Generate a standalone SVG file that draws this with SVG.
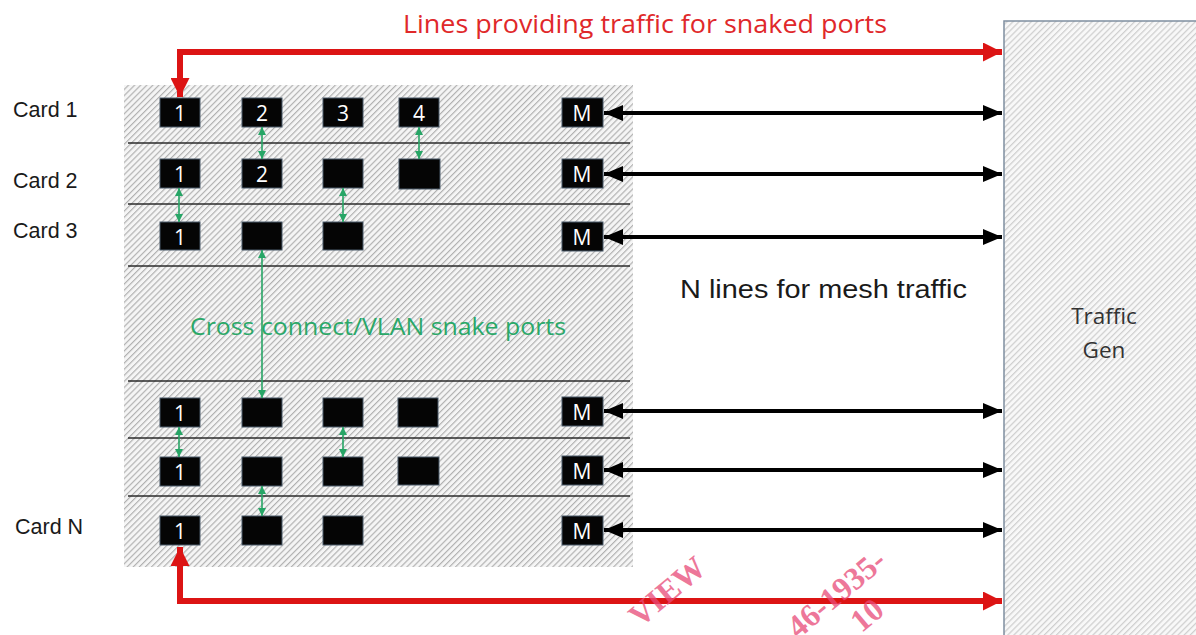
<svg xmlns="http://www.w3.org/2000/svg" width="1196" height="635" viewBox="0 0 1196 635">
<defs>
<pattern id="hatch" width="4.3" height="4.3" patternUnits="userSpaceOnUse" patternTransform="rotate(45)">
<rect width="4.3" height="4.3" fill="#f5f5f5"/>
<line x1="0.6" y1="0" x2="0.6" y2="4.3" stroke="#adadad" stroke-width="1.1"/>
</pattern>
<pattern id="hatch2" width="4.3" height="4.3" patternUnits="userSpaceOnUse" patternTransform="rotate(45)">
<rect width="4.3" height="4.3" fill="#f8f8f8"/>
<line x1="0.6" y1="0" x2="0.6" y2="4.3" stroke="#cfcfcf" stroke-width="1.3"/>
</pattern>
<marker id="blk" viewBox="0 0 19 16" refX="19" refY="8" markerWidth="19" markerHeight="16" markerUnits="userSpaceOnUse" orient="auto-start-reverse">
<path d="M0,0 L19,8 L0,16 Z" fill="#000"/>
</marker>
<marker id="red" viewBox="0 0 19 19" refX="19" refY="9.5" markerWidth="19" markerHeight="19" markerUnits="userSpaceOnUse" orient="auto-start-reverse">
<path d="M0,0 L19,9.5 L0,19 Z" fill="#dc1414"/>
</marker>
<marker id="grn" viewBox="0 0 8 8" refX="8" refY="4" markerWidth="8" markerHeight="8" markerUnits="userSpaceOnUse" orient="auto-start-reverse">
<path d="M0,0 L8,4 L0,8 Z" fill="#27a566"/>
</marker>
</defs>
<style>
.port{fill:#050505;stroke:#4a5a6a;stroke-width:1}
.pl{font-family:"Open Sans",sans-serif;font-size:21px;fill:#fff;text-anchor:middle}
.card{font-family:"Liberation Sans",Arial,sans-serif;font-size:21.5px;fill:#1a1a1a}
.sep{stroke:#2a2a2a;stroke-width:1.5}
.ba{stroke:#000;stroke-width:4;fill:none;marker-start:url(#blk);marker-end:url(#blk)}
.ra{stroke:#dc1414;stroke-width:6;fill:none;marker-start:url(#red);marker-end:url(#red)}
.ga{stroke:#27a566;stroke-width:1.6;fill:none;marker-start:url(#grn);marker-end:url(#grn)}
.wm{font-family:"Liberation Serif",serif;font-weight:bold;font-size:32px;fill:#e84a78;opacity:0.75}
</style>
<rect width="1196" height="635" fill="#fff"/>

<g id="card-area">
<rect x="124" y="85" width="509" height="482" fill="url(#hatch)"/>
<line class="sep" x1="128" y1="143" x2="630" y2="143"/>
<line class="sep" x1="128" y1="204" x2="630" y2="204"/>
<line class="sep" x1="128" y1="266" x2="630" y2="266"/>
<line class="sep" x1="128" y1="381" x2="630" y2="381"/>
<line class="sep" x1="128" y1="438" x2="630" y2="438"/>
<line class="sep" x1="128" y1="496" x2="630" y2="496"/>
</g>

<g id="traffic-gen">
<rect x="1004" y="21" width="200" height="630" fill="url(#hatch2)" stroke="#7f8fa0" stroke-width="1.5"/>
<text x="1104" y="324" font-family="Open Sans,sans-serif" font-size="22.5" fill="#333" text-anchor="middle">Traffic</text>
<text x="1104" y="358" font-family="Open Sans,sans-serif" font-size="22.5" fill="#333" text-anchor="middle">Gen</text>
</g>

<g id="card1">
<text class="card" x="13" y="117">Card 1</text>
<rect class="port" x="160" y="98" width="40" height="29"/><text class="pl" x="180" y="121">1</text>
<rect class="port" x="242" y="98" width="40" height="29"/><text class="pl" x="262" y="121">2</text>
<rect class="port" x="323" y="98" width="40" height="29"/><text class="pl" x="343" y="121">3</text>
<rect class="port" x="399" y="98" width="40" height="29"/><text class="pl" x="419" y="121">4</text>
<rect class="port" x="562" y="98" width="41" height="29"/><text class="pl" x="582" y="121">M</text>
</g>
<g id="card2">
<text class="card" x="13" y="188">Card 2</text>
<rect class="port" x="160" y="159" width="40" height="29"/><text class="pl" x="180" y="182">1</text>
<rect class="port" x="242" y="159" width="40" height="29"/><text class="pl" x="262" y="182">2</text>
<rect class="port" x="323" y="159" width="40" height="29"/>
<rect class="port" x="399" y="159" width="41" height="30"/>
<rect class="port" x="562" y="159" width="41" height="29"/><text class="pl" x="582" y="182">M</text>
</g>
<g id="card3">
<text class="card" x="13" y="238">Card 3</text>
<rect class="port" x="160" y="222" width="40" height="28"/><text class="pl" x="180" y="245">1</text>
<rect class="port" x="242" y="222" width="40" height="28"/>
<rect class="port" x="323" y="222" width="40" height="28"/>
<rect class="port" x="562" y="222" width="41" height="29"/><text class="pl" x="582" y="245">M</text>
</g>
<g id="cardA">
<rect class="port" x="160" y="398" width="40" height="29"/><text class="pl" x="180" y="421">1</text>
<rect class="port" x="242" y="398" width="40" height="29"/>
<rect class="port" x="323" y="398" width="40" height="29"/>
<rect class="port" x="398" y="398" width="40" height="29"/>
<rect class="port" x="562" y="397" width="41" height="29"/><text class="pl" x="582" y="420">M</text>
</g>
<g id="cardB">
<rect class="port" x="160" y="457" width="40" height="29"/><text class="pl" x="180" y="480">1</text>
<rect class="port" x="242" y="457" width="40" height="29"/>
<rect class="port" x="323" y="457" width="40" height="29"/>
<rect class="port" x="398" y="457" width="41" height="28"/>
<rect class="port" x="562" y="456" width="41" height="29"/><text class="pl" x="582" y="479">M</text>
</g>
<g id="cardN">
<text class="card" x="15" y="534">Card N</text>
<rect class="port" x="160" y="516" width="40" height="29"/><text class="pl" x="180" y="539">1</text>
<rect class="port" x="242" y="516" width="40" height="29"/>
<rect class="port" x="323" y="516" width="40" height="29"/>
<rect class="port" x="562" y="516" width="41" height="29"/><text class="pl" x="582" y="539">M</text>
</g>

<g id="connectors">
<path class="ra" d="M180,97 L180,52 L1002,52"/>
<path class="ra" d="M180,547 L180,601 L1002,601"/>
<line class="ba" x1="604" y1="113" x2="1002" y2="113"/>
<line class="ba" x1="604" y1="174" x2="1002" y2="174"/>
<line class="ba" x1="604" y1="237" x2="1002" y2="237"/>
<line class="ba" x1="604" y1="411" x2="1002" y2="411"/>
<line class="ba" x1="604" y1="470" x2="1002" y2="470"/>
<line class="ba" x1="604" y1="530" x2="1002" y2="530"/>
<line class="ga" x1="262" y1="127" x2="262" y2="159"/>
<line class="ga" x1="419" y1="127" x2="419" y2="159"/>
<line class="ga" x1="179" y1="188" x2="179" y2="222"/>
<line class="ga" x1="343" y1="188" x2="343" y2="222"/>
<line class="ga" x1="262" y1="250" x2="262" y2="398"/>
<line class="ga" x1="179" y1="427" x2="179" y2="457"/>
<line class="ga" x1="343" y1="427" x2="343" y2="457"/>
<line class="ga" x1="262" y1="486" x2="262" y2="516"/>
</g>

<g id="labels">
<text x="645" y="33" font-family="Open Sans,sans-serif" font-size="25" fill="#e0282a" text-anchor="middle" textLength="484" lengthAdjust="spacingAndGlyphs">Lines providing traffic for snaked ports</text>
<text x="378" y="335" font-family="Open Sans,sans-serif" font-size="23.5" fill="#2aa868" text-anchor="middle" textLength="376" lengthAdjust="spacingAndGlyphs">Cross connect/VLAN snake ports</text>
<text x="680" y="298" font-family="Liberation Sans,Arial,sans-serif" font-size="26" fill="#1a1a1a" textLength="287" lengthAdjust="spacingAndGlyphs">N lines for mesh traffic</text>
</g>

<g id="watermark">
<text class="wm" transform="translate(708,571) rotate(-40)" text-anchor="end">VIEW</text>
<text class="wm" transform="translate(888,564) rotate(-40)" text-anchor="end">46-1935-</text>
<text class="wm" transform="translate(886,613) rotate(-40)" text-anchor="end">10</text>
</g>
</svg>
